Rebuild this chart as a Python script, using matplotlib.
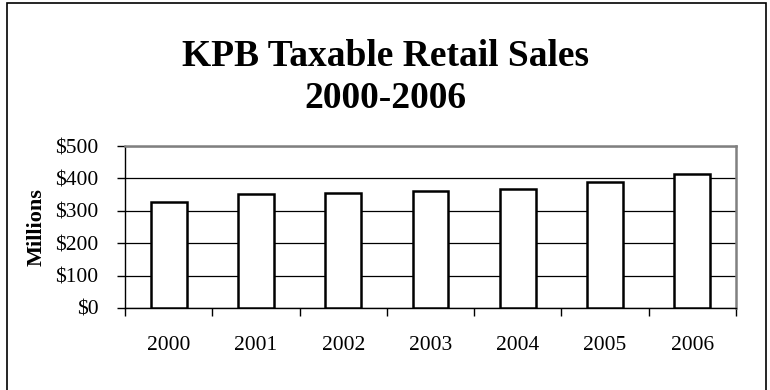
import matplotlib.pyplot as plt
from matplotlib.patches import Rectangle
from matplotlib.ticker import FixedLocator

plt.rcParams["font.family"] = ["Liberation Serif", "DejaVu Serif"]

years = ["2000", "2001", "2002", "2003", "2004", "2005", "2006"]
sales = [328, 353, 356, 362, 368, 389, 414]  # millions of dollars
y_ticks = [0, 100, 200, 300, 400, 500]
y_labels = ["$0", "$100", "$200", "$300", "$400", "$500"]

fig = plt.figure(figsize=(7.7, 3.9), dpi=100)

# outer chart frame (runs off the bottom edge like the original)
fig.patches.append(
    Rectangle((7 / 770, -0.05), 759 / 770, 1.042, transform=fig.transFigure,
              fill=False, edgecolor="black", linewidth=1.2, clip_on=False)
)

ax = fig.add_axes([0.1623, 0.2103, 0.7935, 0.4153])
x = range(len(years))
ax.bar(x, sales, width=0.41, color="white", edgecolor="black", linewidth=1.8, zorder=3)

ax.set_xlim(-0.5, len(years) - 0.5)
ax.set_ylim(0, 500)
ax.set_yticks(y_ticks)
ax.set_yticklabels(y_labels, fontsize=15.5)
ax.set_xticks(list(x))
ax.set_xticklabels(years, fontsize=15.5)
ax.xaxis.set_minor_locator(FixedLocator([i - 0.5 for i in range(len(years) + 1)]))
ax.tick_params(axis="x", which="major", length=0, pad=20)
ax.tick_params(axis="x", which="minor", length=6, width=1, direction="out")
ax.tick_params(axis="y", length=6, width=1, direction="out", pad=13)

ax.yaxis.grid(True, color="black", linewidth=0.9, zorder=0)
ax.set_axisbelow(True)

for side in ["top", "right"]:
    ax.spines[side].set_color("#808080")
    ax.spines[side].set_linewidth(1.8)
for side in ["left", "bottom"]:
    ax.spines[side].set_color("black")
    ax.spines[side].set_linewidth(1)

ax.set_ylabel("Millions", fontsize=16, fontweight="bold", labelpad=6)

fig.text(0.5, 1 - 56 / 390, "KPB Taxable Retail Sales", ha="center", va="center",
         fontsize=27, fontweight="bold")
fig.text(0.5, 1 - 99 / 390, "2000-2006", ha="center", va="center",
         fontsize=27, fontweight="bold")

fig.savefig("out.png", dpi=100)
